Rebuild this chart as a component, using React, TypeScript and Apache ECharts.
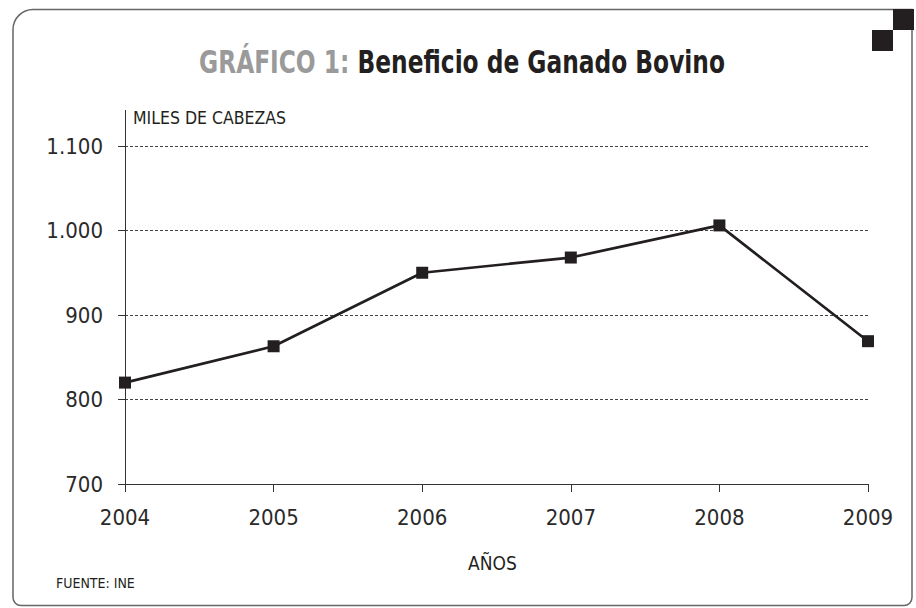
import React, { useEffect, useRef } from "react";
import * as echarts from "echarts";

const years = ["2004", "2005", "2006", "2007", "2008", "2009"];
const cattle = [820, 863, 950, 968, 1006, 869];
const yTicks = { min: 700, max: 1100, interval: 100 };
const titleLead = "GRÁFICO 1:";
const titleMain = "Beneficio de Ganado Bovino";
const yName = "MILES DE CABEZAS";
const xName = "AÑOS";
const source = "FUENTE: INE";

const FONT = "'Liberation Sans Narrow', 'Arial Narrow', 'DejaVu Sans Condensed', sans-serif";
const INK = "#231f20";

function fmt(v: number): string {
  if (v >= 1000) {
    return Math.floor(v / 1000) + "." + String(v % 1000).padStart(3, "0");
  }
  return String(v);
}

export default function App() {
  const ref = useRef<HTMLDivElement>(null);
  useEffect(() => {
    if (!ref.current) return;
    const chart = echarts.init(ref.current, undefined, { renderer: "svg" });
    chart.setOption({
      animation: false,
      backgroundColor: "#ffffff",
      grid: { left: 125, right: 48, top: 146, bottom: 124, containLabel: false },
      xAxis: {
        type: "category",
        data: years,
        boundaryGap: false,
        name: xName,
        nameLocation: "middle",
        nameGap: 69,
        nameTextStyle: { fontFamily: FONT, fontSize: 19, color: INK, padding: [0, 8, 0, 0] },
        axisLine: { show: true, lineStyle: { color: "#333", width: 1 } },
        axisTick: { show: true, inside: false, length: 8, lineStyle: { color: "#333" } },
        axisLabel: { fontFamily: FONT, fontSize: 22, color: "#2a2a2a", margin: 22 },
        splitLine: { show: false },
      },
      yAxis: {
        type: "value",
        min: yTicks.min,
        max: yTicks.max,
        interval: yTicks.interval,
        axisLine: { show: true, lineStyle: { color: "#333", width: 1 } },
        axisTick: { show: true, inside: false, length: 7, lineStyle: { color: "#333" } },
        axisLabel: {
          fontFamily: FONT,
          fontSize: 22,
          color: "#2a2a2a",
          margin: 22,
          formatter: (v: number) => fmt(v),
        },
        splitLine: { show: true, lineStyle: { color: "#444", width: 1, type: [3, 2] } },
      },
      series: [
        {
          type: "line",
          data: cattle,
          symbol: "rect",
          symbolSize: 12,
          lineStyle: { color: INK, width: 2.7 },
          itemStyle: { color: INK },
          z: 5,
        },
      ],
      graphic: [
        {
          type: "rect",
          z: -1,
          shape: { x: 13, y: 9.5, width: 899, height: 596, r: [20, 0, 8, 8] },
          style: { fill: "none", stroke: "#666", lineWidth: 1.5 },
          silent: true,
        },
        {
          type: "rect",
          shape: { x: 893, y: 9, width: 21, height: 21 },
          style: { fill: INK },
          silent: true,
        },
        {
          type: "rect",
          shape: { x: 872, y: 30, width: 21, height: 21 },
          style: { fill: INK },
          silent: true,
        },
        {
          type: "line",
          shape: { x1: 125.5, y1: 110, x2: 125.5, y2: 146 },
          style: { stroke: "#333", lineWidth: 1 },
          silent: true,
        },
        {
          type: "text",
          x: 462,
          y: 62,
          scaleX: 0.81,
          style: {
            text: "{a|" + titleLead + "}{b| " + titleMain + "}",
            align: "center",
            verticalAlign: "middle",
            rich: {
              a: { fontFamily: FONT, fontWeight: "bold", fontSize: 32, fill: "#9a9a9a" },
              b: { fontFamily: FONT, fontWeight: "bold", fontSize: 32, fill: INK },
            },
          },
        },
        {
          type: "text",
          x: 133,
          y: 118,
          style: {
            text: yName,
            fontFamily: FONT,
            fontSize: 17.5,
            fill: INK,
            align: "left",
            verticalAlign: "middle",
          },
        },
        {
          type: "text",
          x: 56,
          y: 583,
          style: {
            text: source,
            fontFamily: FONT,
            fontSize: 14,
            fill: INK,
            align: "left",
            verticalAlign: "middle",
          },
        },
      ],
    });
    return () => chart.dispose();
  }, []);
  return <div ref={ref} style={{ width: 916, height: 608, position: "absolute", left: 0, top: 0 }} />;
}
